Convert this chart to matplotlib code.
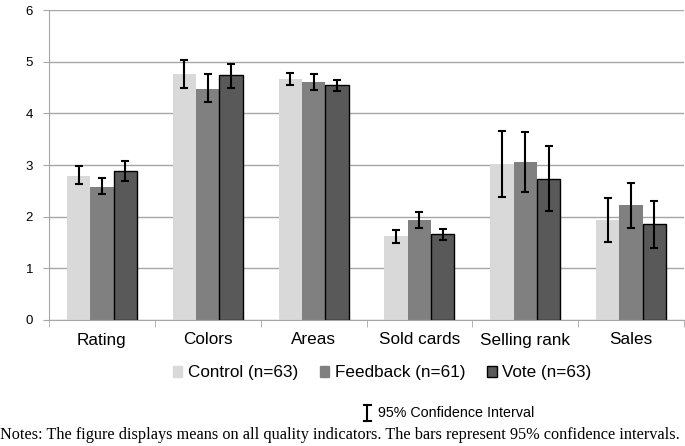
import numpy as np
import matplotlib
matplotlib.use("Agg")
import matplotlib.pyplot as plt
from matplotlib.patches import Patch
from matplotlib.lines import Line2D

plt.rcParams["font.family"] = ["Liberation Sans", "DejaVu Sans"]

categories = ["Rating", "Colors", "Areas", "Sold cards", "Selling rank", "Sales"]
groups = ["Control (n=63)", "Feedback (n=61)", "Vote (n=63)"]

control = [2.79, 4.76, 4.67, 1.62, 3.01, 1.94]
control_lo = [2.63, 4.49, 4.55, 1.50, 2.38, 1.51]
control_hi = [2.98, 5.03, 4.79, 1.74, 3.66, 2.36]

feedback = [2.58, 4.48, 4.61, 1.94, 3.06, 2.22]
feedback_lo = [2.43, 4.21, 4.45, 1.79, 2.47, 1.78]
feedback_hi = [2.74, 4.76, 4.77, 2.09, 3.64, 2.66]

vote = [2.89, 4.74, 4.54, 1.66, 2.73, 1.86]
vote_lo = [2.70, 4.50, 4.43, 1.55, 2.11, 1.39]
vote_hi = [3.08, 4.96, 4.64, 1.76, 3.37, 2.31]

series = [(control, control_lo, control_hi, "#d9d9d9", "none"),
          (feedback, feedback_lo, feedback_hi, "#808080", "none"),
          (vote, vote_lo, vote_hi, "#595959", "black")]

W, H = 685, 446
fig = plt.figure(figsize=(W / 100, H / 100), dpi=100)
ax = fig.add_axes([49 / W, (H - 320) / H, 635 / W, 310 / H])

x = np.arange(len(categories))
bw = 0.22
for i, (m, lo, hi, fc, ec) in enumerate(series):
    m = np.array(m); lo = np.array(lo); hi = np.array(hi)
    xs = x + (i - 1) * bw
    ax.bar(xs, m, bw, color=fc, edgecolor=ec, linewidth=1.0, zorder=2, label=groups[i])
    ax.errorbar(xs, m, yerr=[m - lo, hi - m], fmt="none", ecolor="black",
                elinewidth=1.5, capsize=2.8, capthick=1.5, zorder=3)

ax.set_ylim(0, 6)
ax.set_xlim(-0.5, len(categories) - 0.5)
ax.set_yticks(range(7))
ax.yaxis.grid(True, color="#a6a6a6", lw=1.0, zorder=0)
ax.set_axisbelow(True)
for s in ["top", "right"]:
    ax.spines[s].set_visible(False)
ax.spines["left"].set_color("#a6a6a6")
ax.spines["bottom"].set_color("#a6a6a6")
ax.tick_params(axis="y", length=4, color="#a6a6a6", labelsize=9.5, pad=7.5)
ax.set_xticks(x)
ax.set_xticklabels(categories, fontsize=12.3)
ax.tick_params(axis="x", length=0, pad=9)
ax.set_xticks(np.arange(-0.5, len(categories), 1.0), minor=True)
ax.tick_params(axis="x", which="minor", length=5, color="#a6a6a6")

handles = [Patch(facecolor=s[3], edgecolor=s[4] if s[4] != "none" else s[3]) for s in series]
fig.legend(handles, groups, loc="center", bbox_to_anchor=(382 / W, 1 - 373 / H),
           ncol=3, frameon=False, fontsize=12.3, handlelength=0.55, handleheight=0.55,
           handletextpad=0.3, columnspacing=1.3, borderpad=0)

# confidence interval key
cx, y0, y1 = 367, 405, 421
fig.add_artist(Line2D([cx / W, cx / W], [1 - y0 / H, 1 - y1 / H], color="black", lw=1.5))
for yy in (y0, y1):
    fig.add_artist(Line2D([(cx - 3.5) / W, (cx + 3.5) / W], [1 - yy / H, 1 - yy / H],
                          color="black", lw=1.5))
fig.text(378 / W, 1 - 413 / H, "95% Confidence Interval", fontsize=10.3, va="center", ha="left")

fig.text(0, 1 - 435 / H,
         "Notes: The figure displays means on all quality indicators. The bars represent 95% confidence intervals.",
         family=["Liberation Serif", "DejaVu Serif"], fontsize=11.7, va="center", ha="left")

fig.savefig("out.png", dpi=100, facecolor="white")
